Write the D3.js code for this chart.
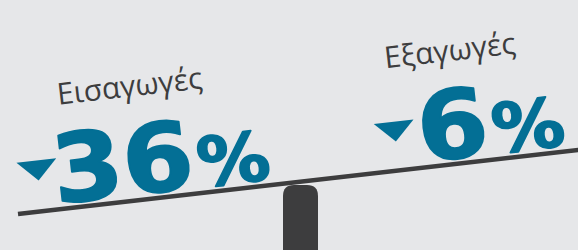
<!DOCTYPE html>
<html>
<head>
<meta charset="utf-8">
<script src="https://cdn.jsdelivr.net/npm/d3@7"></script>
<style>
  html, body { margin: 0; padding: 0; background: #e6e7e9; }
  svg { display: block; }
</style>
</head>
<body>
<div id="chart"></div>
<script>
// data
const labels = ["Εισαγωγές", "Εξαγωγές"];
const changes = [-36, -6];          // % change
const anchorX = [62, 427];          // where each figure starts along the beam (px)

const width = 578, height = 250;
const bg = "#e6e7e9", teal = "#036f95", dark = "#3d3d3e";

const svg = d3.select("#chart").append("svg")
    .attr("width", width)
    .attr("height", height);

svg.append("rect").attr("width", width).attr("height", height).attr("fill", bg);

// beam: screen x -> screen y
const by = d3.scaleLinear().domain([18, 578]).range([214, 150]);
const angle = Math.atan2(by(578) - by(18), 560) * 180 / Math.PI;

// fulcrum
const fx = 283, fw = 35, ftop = 185, r = 11;
svg.append("path")
    .attr("fill", dark)
    .attr("d", `M${fx},${height} V${ftop + r} Q${fx},${ftop} ${fx + r},${ftop} H${fx + fw - r} Q${fx + fw},${ftop} ${fx + fw},${ftop + r} V${height} Z`);

// beam line
svg.append("line")
    .attr("x1", 18).attr("y1", by(18))
    .attr("x2", 580).attr("y2", by(580))
    .attr("stroke", dark)
    .attr("stroke-width", 4.5);

// per-item local layout (in rotated frame)
const labelOff = [[8, -104], [-30, -103]];
const triOff = [[-40, -51], [-48, -49]];

const g = svg.selectAll("g.item")
    .data(labels.map((l, i) => ({ label: l, value: changes[i], x: anchorX[i], lo: labelOff[i], to: triOff[i] })))
    .join("g")
    .attr("class", "item")
    .attr("transform", d => `translate(${d.x},${by(d.x)}) rotate(${angle})`);

g.append("text")
    .attr("x", d => d.lo[0])
    .attr("y", d => d.lo[1])
    .attr("font-family", "'Open Sans', sans-serif")
    .attr("font-size", 30)
    .attr("fill", dark)
    .text(d => d.label);

// down triangle for a fall
g.append("path")
    .attr("fill", teal)
    .attr("d", d => {
        const [tx, ty] = d.to;
        return d.value < 0
            ? `M${tx},${ty} L${tx + 40},${ty} L${tx + 20},${ty + 20} Z`
            : `M${tx},${ty + 20} L${tx + 40},${ty + 20} L${tx + 20},${ty} Z`;
    });

const t = g.append("text")
    .attr("transform", "scale(1.07,1)")
    .attr("x", -5)
    .attr("y", -6)
    .attr("font-family", "'DejaVu Sans', sans-serif")
    .attr("font-weight", "bold")
    .attr("fill", teal)
    .attr("stroke", teal)
    .attr("stroke-width", 1.8)
    .attr("stroke-linejoin", "round");
t.append("tspan").attr("font-size", 95).text(d => Math.abs(d.value));
t.append("tspan").attr("font-size", 68).attr("dx", 3).text("%");
</script>
</body>
</html>
